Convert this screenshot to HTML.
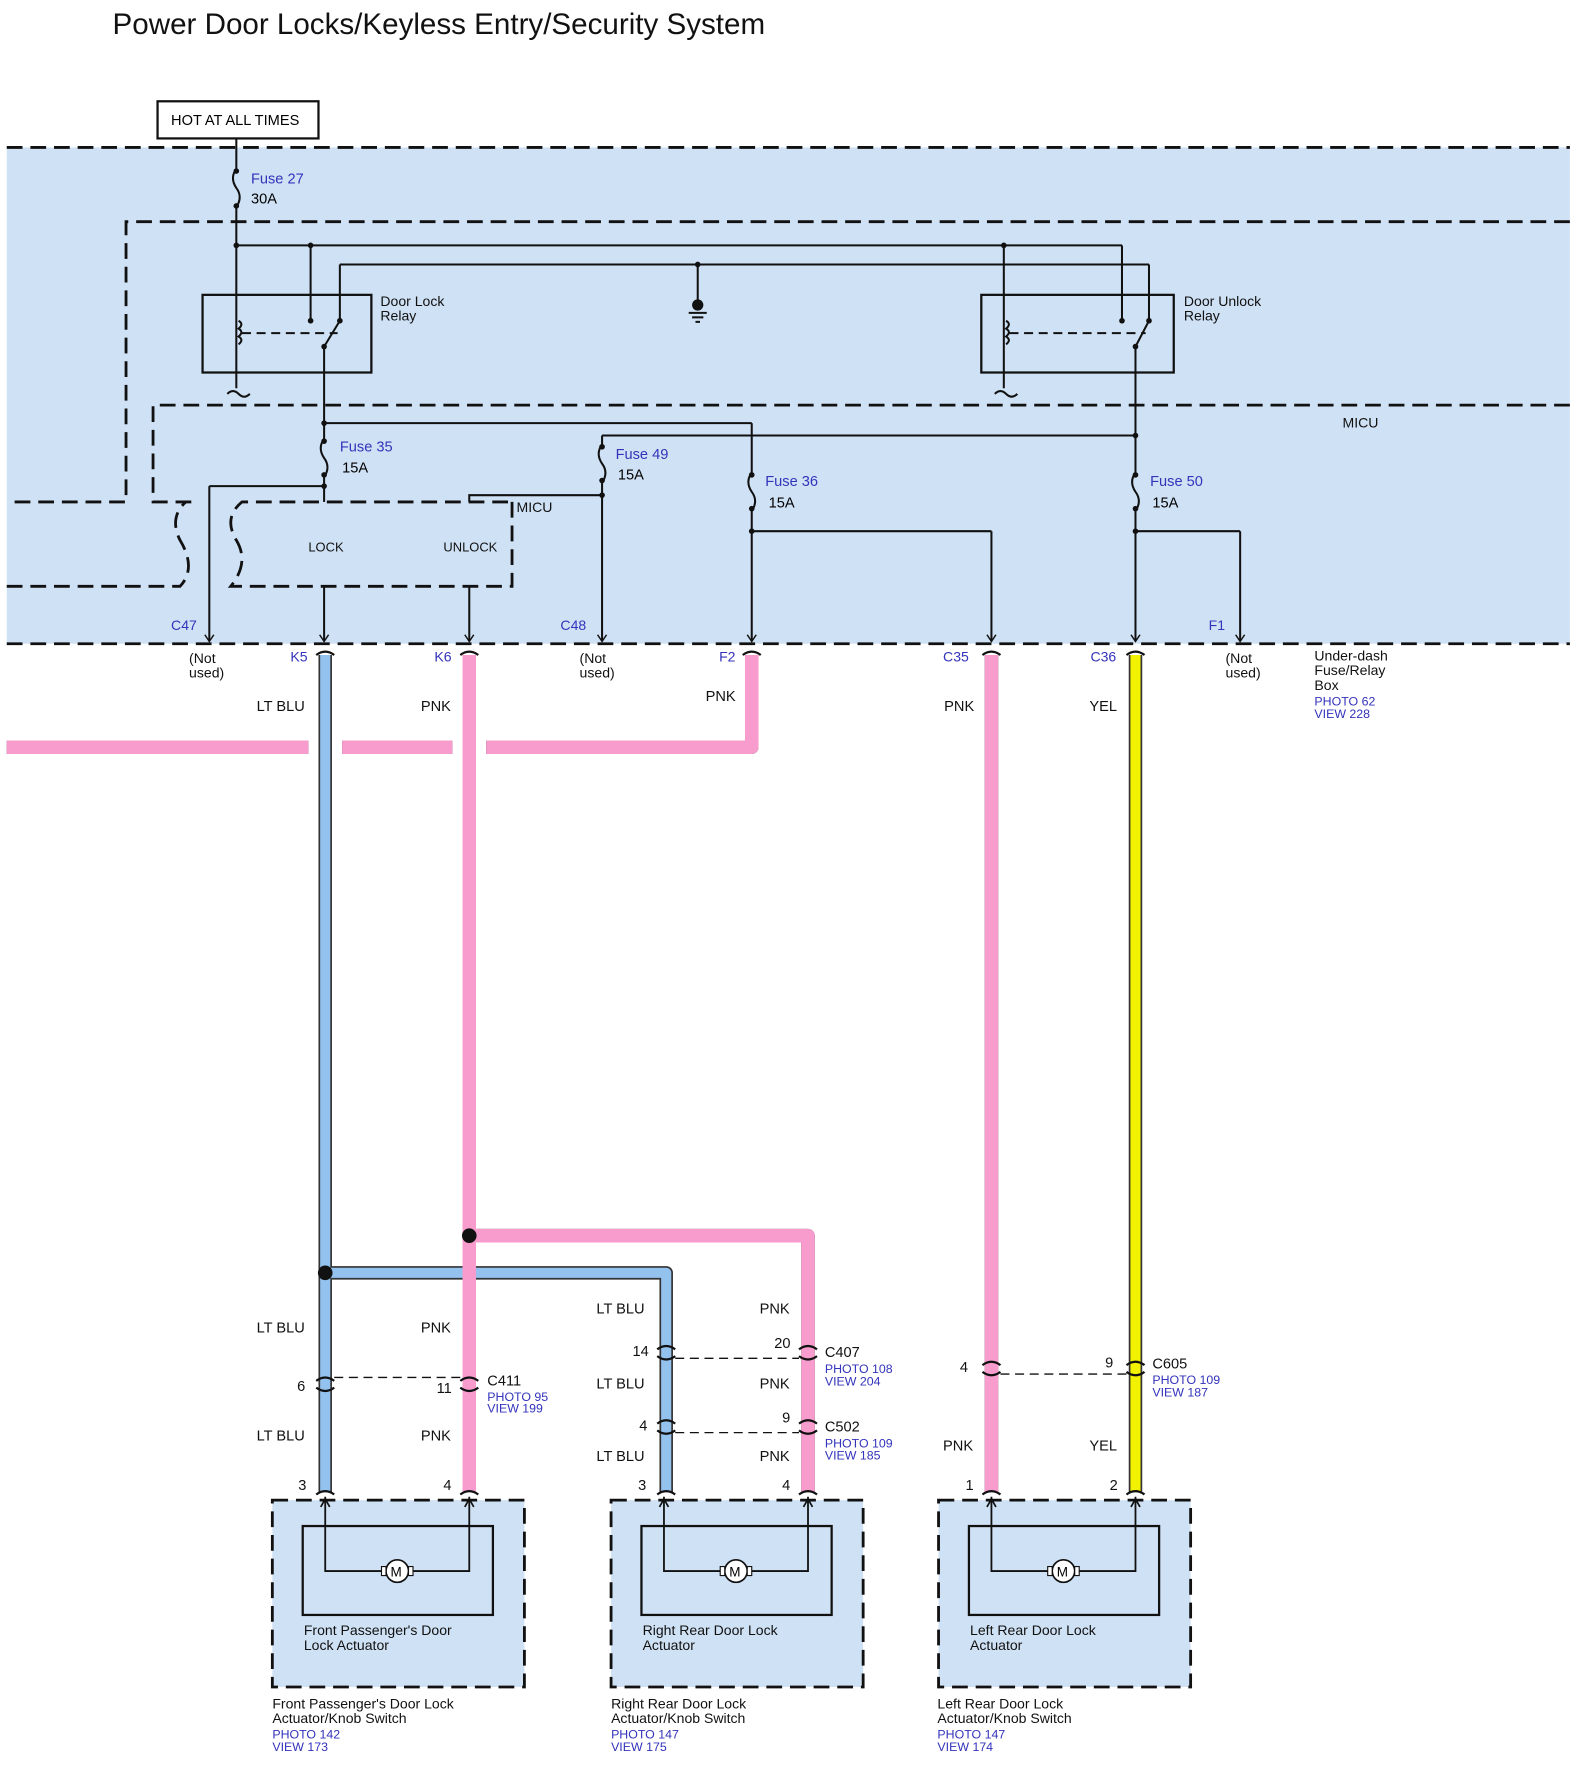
<!DOCTYPE html>
<html><head><style>
html,body{margin:0;padding:0;background:#fff;}
svg{display:block;}
text{font-family:"Liberation Sans",sans-serif;}
</style></head><body>
<svg width="1580" height="1768" viewBox="0 0 1404 1571" preserveAspectRatio="none" xmlns="http://www.w3.org/2000/svg">
<defs>
<marker id="ar" markerWidth="10" markerHeight="10" refX="8" refY="5" orient="auto" markerUnits="userSpaceOnUse">
<path d="M2,1 L8,5 L2,9" fill="none" stroke="#111" stroke-width="1.3"/>
</marker>
</defs>
<rect width="1404" height="1571" fill="#fff"/>
<text x="100" y="30" font-size="26.3" fill="#111">Power Door Locks/Keyless Entry/Security System</text>
<rect x="140" y="90" width="143" height="33" fill="#fff" stroke="#111" stroke-width="2"/>
<text x="152" y="111" font-size="13">HOT AT ALL TIMES</text>
<rect x="6" y="131" width="1389" height="441" fill="#cfe1f4"/>
<g fill="none" stroke="#111" stroke-width="2.5" stroke-dasharray="14,7">
<line x1="6" y1="131" x2="1395" y2="131"/>
<line x1="6" y1="572" x2="1395" y2="572"/>
<path d="M1395,197 H112 V446 H6"/>
<path d="M1395,360 H136 V446 H170"/>
<path d="M6,521 H160 Q175,505 160,480 Q150,460 165,446"/>
<path d="M455,446 V521 H205 Q222,500 210,480 Q198,460 215,446 H455"/>
</g>
<g font-size="12.5" fill="#111">
<text x="1193" y="380">MICU</text>
<text x="459" y="455">MICU</text>
<text x="274" y="490" font-size="11.5">LOCK</text>
<text x="394" y="490" font-size="11.5">UNLOCK</text>
<text x="338" y="272">Door Lock</text><text x="338" y="285">Relay</text>
<text x="1052" y="272">Door Unlock</text><text x="1052" y="285">Relay</text>
</g>
<rect x="180" y="262" width="150" height="69" fill="none" stroke="#111" stroke-width="2"/>
<rect x="872" y="262" width="171" height="69" fill="none" stroke="#111" stroke-width="2"/>
<g fill="none" stroke="#111" stroke-width="1.8">
<line x1="210" y1="123" x2="210" y2="150"/>
<path d="M210,150 q-6,8 0,17 q6,8 0,17"/>
<line x1="210" y1="184" x2="210" y2="345"/>
<path d="M202,350 q5,-5 10,0 q5,5 10,0"/>
<line x1="210" y1="218" x2="997" y2="218"/>
<line x1="276" y1="218" x2="276" y2="285"/>
<line x1="302" y1="235" x2="302" y2="285"/>
<line x1="302" y1="235" x2="1021" y2="235"/>
<line x1="620" y1="235" x2="620" y2="270"/>
<line x1="612" y1="278" x2="628" y2="278"/><line x1="615" y1="282" x2="625" y2="282"/><line x1="618" y1="286" x2="622" y2="286"/>
<path d="M212,285 q5,3 0,7 q5,3 0,7 q5,3 0,7"/>
<line x1="215" y1="296" x2="300" y2="296" stroke-dasharray="8,5"/>
<line x1="288" y1="308" x2="302" y2="285"/>
<line x1="892" y1="218" x2="892" y2="345"/>
<path d="M884,350 q5,-5 10,0 q5,5 10,0"/>
<path d="M894,285 q5,3 0,7 q5,3 0,7 q5,3 0,7"/>
<line x1="897" y1="296" x2="1018" y2="296" stroke-dasharray="8,5"/>
<line x1="997" y1="218" x2="997" y2="285"/>
<line x1="1021" y1="235" x2="1021" y2="285"/>
<line x1="1009" y1="308" x2="1021" y2="285"/>
<line x1="288" y1="308" x2="288" y2="390"/>
<path d="M288,390 q-6,8 0,17 q6,8 0,17"/>
<line x1="288" y1="424" x2="288" y2="446"/>
<line x1="288" y1="376" x2="668" y2="376"/>
<line x1="288" y1="432" x2="186" y2="432"/>
<line x1="186" y1="432" x2="186" y2="570" marker-end="url(#ar)"/>
<line x1="288" y1="521" x2="288" y2="570" marker-end="url(#ar)"/>
<line x1="417" y1="521" x2="417" y2="570" marker-end="url(#ar)"/>
<path d="M417,446 V440 H535"/>
<line x1="535" y1="387" x2="1009" y2="387"/>
<line x1="535" y1="387" x2="535" y2="395"/>
<path d="M535,395 q-6,8 0,17 q6,8 0,17"/>
<line x1="535" y1="429" x2="535" y2="570" marker-end="url(#ar)"/>
<line x1="668" y1="376" x2="668" y2="420"/>
<path d="M668,420 q-6,8 0,17 q6,8 0,17"/>
<line x1="668" y1="454" x2="668" y2="570" marker-end="url(#ar)"/>
<path d="M668,472 H881"/>
<line x1="881" y1="472" x2="881" y2="570" marker-end="url(#ar)"/>
<line x1="1009" y1="308" x2="1009" y2="420"/>
<path d="M1009,420 q-6,8 0,17 q6,8 0,17"/>
<line x1="1009" y1="454" x2="1009" y2="570" marker-end="url(#ar)"/>
<path d="M1009,472 H1102"/>
<line x1="1102" y1="472" x2="1102" y2="570" marker-end="url(#ar)"/>
</g>
<g fill="#111">
<circle cx="210" cy="152" r="2.5"/><circle cx="210" cy="183" r="2.5"/><circle cx="210" cy="218" r="2.5"/>
<circle cx="276" cy="218" r="2.5"/><circle cx="892" cy="218" r="2.5"/><circle cx="620" cy="235" r="2.5"/>
<circle cx="620" cy="271" r="5"/>
<circle cx="276" cy="285" r="2.5"/><circle cx="302" cy="285" r="2.5"/><circle cx="288" cy="308" r="2.5"/>
<circle cx="997" cy="285" r="2.5"/><circle cx="1021" cy="285" r="2.5"/><circle cx="1009" cy="308" r="2.5"/>
<circle cx="288" cy="376" r="2.5"/><circle cx="288" cy="392" r="2.5"/><circle cx="288" cy="422" r="2.5"/><circle cx="288" cy="432" r="2.5"/>
<circle cx="535" cy="397" r="2.5"/><circle cx="535" cy="427" r="2.5"/><circle cx="535" cy="440" r="2.5"/>
<circle cx="668" cy="422" r="2.5"/><circle cx="668" cy="452" r="2.5"/><circle cx="668" cy="472" r="2.5"/>
<circle cx="1009" cy="387" r="2.5"/><circle cx="1009" cy="422" r="2.5"/><circle cx="1009" cy="452" r="2.5"/><circle cx="1009" cy="472" r="2.5"/>
</g>
<g font-size="13">
<text x="223" y="163" fill="#3333bb">Fuse 27</text><text x="223" y="181">30A</text>
<text x="302" y="401" fill="#3333bb">Fuse 35</text><text x="304" y="420">15A</text>
<text x="547" y="408" fill="#3333bb">Fuse 49</text><text x="549" y="426">15A</text>
<text x="680" y="432" fill="#3333bb">Fuse 36</text><text x="683" y="451">15A</text>
<text x="1022" y="432" fill="#3333bb">Fuse 50</text><text x="1024" y="451">15A</text>
</g>
<g font-size="12.5" fill="#3333bb">
<text x="152" y="560">C47</text><text x="258" y="588">K5</text><text x="386" y="588">K6</text>
<text x="498" y="560">C48</text><text x="639" y="588">F2</text><text x="838" y="588">C35</text>
<text x="969" y="588">C36</text><text x="1074" y="560">F1</text>
</g>
<g font-size="12.5" fill="#111">
<text x="168" y="589">(Not</text><text x="168" y="602">used)</text>
<text x="515" y="589">(Not</text><text x="515" y="602">used)</text>
<text x="1089" y="589">(Not</text><text x="1089" y="602">used)</text>
<text x="1168" y="587">Under-dash</text><text x="1168" y="600">Fuse/Relay</text><text x="1168" y="613">Box</text>
<text x="1168" y="627" font-size="11" fill="#3333bb">PHOTO 62</text><text x="1168" y="638" font-size="11" fill="#3333bb">VIEW 228</text>
</g>
<g fill="none" stroke-linejoin="round">
<g stroke="#333" stroke-width="12">
<path d="M668,582 V664 H432 M402,664 H304 M274,664 H6"/>
<line x1="289" y1="582" x2="289" y2="1326"/>
<path d="M289,1131 H592 V1326"/>
<path d="M417,1098 H718 V1326"/>
<line x1="881" y1="582" x2="881" y2="1326"/>
<line x1="1009" y1="582" x2="1009" y2="1326"/>
</g>
<path d="M668,582 V664 H432 M402,664 H304 M274,664 H6" stroke="#f79ccd" stroke-width="12"/>
<path d="M417,1098 H718 V1326" stroke="#f79ccd" stroke-width="12"/>
<line x1="289" y1="582" x2="289" y2="1326" stroke="#94c2ef" stroke-width="9"/>
<path d="M289,1131 H592 V1326" stroke="#94c2ef" stroke-width="9"/>
<line x1="417" y1="582" x2="417" y2="1326" stroke="#f79ccd" stroke-width="12"/>
<line x1="881" y1="582" x2="881" y2="1326" stroke="#f79ccd" stroke-width="12"/>
<line x1="1009" y1="582" x2="1009" y2="1326" stroke="#f2f200" stroke-width="9"/>
</g>
<circle cx="289" cy="1131" r="6.5" fill="#111"/>
<circle cx="417" cy="1098" r="6.5" fill="#111"/>
<g fill="none" stroke="#111" stroke-width="2">
<path d="M281,582 q8,-6 16,0 M409,582 q8,-6 16,0 M660,582 q8,-6 16,0 M873,582 q8,-6 16,0 M1001,582 q8,-6 16,0"/>
<path d="M281,1227 q8,-6 16,0 M281,1233 q8,6 16,0 M409,1227 q8,-6 16,0 M409,1233 q8,6 16,0"/>
<path d="M584,1199 q8,-6 16,0 M584,1205 q8,6 16,0 M710,1199 q8,-6 16,0 M710,1205 q8,6 16,0"/>
<path d="M584,1265 q8,-6 16,0 M584,1271 q8,6 16,0 M710,1265 q8,-6 16,0 M710,1271 q8,6 16,0"/>
<path d="M873,1213 q8,-6 16,0 M873,1219 q8,6 16,0 M1001,1213 q8,-6 16,0 M1001,1219 q8,6 16,0"/>
<path d="M281,1328 q8,-6 16,0 M409,1328 q8,-6 16,0 M584,1328 q8,-6 16,0 M710,1328 q8,-6 16,0 M873,1328 q8,-6 16,0 M1001,1328 q8,-6 16,0"/>
<g stroke-width="1.2" stroke-dasharray="8,5">
<line x1="297" y1="1224" x2="409" y2="1224"/>
<line x1="600" y1="1207" x2="710" y2="1207"/>
<line x1="600" y1="1273" x2="710" y2="1273"/>
<line x1="889" y1="1221" x2="1001" y2="1221"/>
</g>
</g>
<g font-size="13" fill="#111">
<text x="228" y="632">LT BLU</text><text x="374" y="632">PNK</text><text x="627" y="623">PNK</text>
<text x="839" y="632">PNK</text><text x="968" y="632">YEL</text>
<text x="228" y="1184">LT BLU</text><text x="374" y="1184">PNK</text>
<text x="228" y="1280">LT BLU</text><text x="374" y="1280">PNK</text>
<text x="264" y="1236">6</text><text x="388" y="1238">11</text>
<text x="433" y="1231">C411</text>
<text x="530" y="1167">LT BLU</text><text x="675" y="1167">PNK</text>
<text x="530" y="1234">LT BLU</text><text x="675" y="1234">PNK</text>
<text x="530" y="1298">LT BLU</text><text x="675" y="1298">PNK</text>
<text x="562" y="1205">14</text><text x="688" y="1198">20</text>
<text x="568" y="1271">4</text><text x="695" y="1264">9</text>
<text x="733" y="1206">C407</text><text x="733" y="1272">C502</text>
<text x="853" y="1219">4</text><text x="982" y="1215">9</text>
<text x="1024" y="1216">C605</text>
<text x="838" y="1289">PNK</text><text x="968" y="1289">YEL</text>
<text x="265" y="1324">3</text><text x="394" y="1324">4</text>
<text x="567" y="1324">3</text><text x="695" y="1324">4</text>
<text x="858" y="1324">1</text><text x="986" y="1324">2</text>
</g>
<g font-size="11" fill="#3333bb">
<text x="433" y="1245">PHOTO 95</text><text x="433" y="1255">VIEW 199</text>
<text x="733" y="1220">PHOTO 108</text><text x="733" y="1231">VIEW 204</text>
<text x="733" y="1286">PHOTO 109</text><text x="733" y="1297">VIEW 185</text>
<text x="1024" y="1230">PHOTO 109</text><text x="1024" y="1241">VIEW 187</text>
</g>
<g>
<g transform="translate(242,0)">
<rect x="0" y="1333" width="224" height="166" fill="#cfe1f4" stroke="#111" stroke-width="2.5" stroke-dasharray="14,7"/>
<rect x="27" y="1356" width="169" height="79" fill="none" stroke="#111" stroke-width="2"/>
<path d="M47,1330 V1396 H100 M122,1396 H175 V1330" fill="none" stroke="#111" stroke-width="1.6"/>
<path d="M43,1339 L47,1332 L51,1339 M171,1339 L175,1332 L179,1339" fill="none" stroke="#111" stroke-width="1.5"/>
<circle cx="111" cy="1396" r="10" fill="#fff" stroke="#111" stroke-width="1.5"/>
<rect x="97" y="1392" width="4" height="8" fill="#fff" stroke="#111"/><rect x="121" y="1392" width="4" height="8" fill="#fff" stroke="#111"/>
<text x="105" y="1401" font-size="12">M</text>
</g>
<g transform="translate(543,0)">
<rect x="0" y="1333" width="224" height="166" fill="#cfe1f4" stroke="#111" stroke-width="2.5" stroke-dasharray="14,7"/>
<rect x="27" y="1356" width="169" height="79" fill="none" stroke="#111" stroke-width="2"/>
<path d="M47,1330 V1396 H100 M122,1396 H175 V1330" fill="none" stroke="#111" stroke-width="1.6"/>
<path d="M43,1339 L47,1332 L51,1339 M171,1339 L175,1332 L179,1339" fill="none" stroke="#111" stroke-width="1.5"/>
<circle cx="111" cy="1396" r="10" fill="#fff" stroke="#111" stroke-width="1.5"/>
<rect x="97" y="1392" width="4" height="8" fill="#fff" stroke="#111"/><rect x="121" y="1392" width="4" height="8" fill="#fff" stroke="#111"/>
<text x="105" y="1401" font-size="12">M</text>
</g>
<g transform="translate(834,0)">
<rect x="0" y="1333" width="224" height="166" fill="#cfe1f4" stroke="#111" stroke-width="2.5" stroke-dasharray="14,7"/>
<rect x="27" y="1356" width="169" height="79" fill="none" stroke="#111" stroke-width="2"/>
<path d="M47,1330 V1396 H100 M122,1396 H175 V1330" fill="none" stroke="#111" stroke-width="1.6"/>
<path d="M43,1339 L47,1332 L51,1339 M171,1339 L175,1332 L179,1339" fill="none" stroke="#111" stroke-width="1.5"/>
<circle cx="111" cy="1396" r="10" fill="#fff" stroke="#111" stroke-width="1.5"/>
<rect x="97" y="1392" width="4" height="8" fill="#fff" stroke="#111"/><rect x="121" y="1392" width="4" height="8" fill="#fff" stroke="#111"/>
<text x="105" y="1401" font-size="12">M</text>
</g>
</g>
<g font-size="12.5" fill="#111">
<text x="270" y="1453">Front Passenger's Door</text><text x="270" y="1466">Lock Actuator</text>
<text x="571" y="1453">Right Rear Door Lock</text><text x="571" y="1466">Actuator</text>
<text x="862" y="1453">Left Rear Door Lock</text><text x="862" y="1466">Actuator</text>
<text x="242" y="1518">Front Passenger's Door Lock</text><text x="242" y="1531">Actuator/Knob Switch</text>
<text x="543" y="1518">Right Rear Door Lock</text><text x="543" y="1531">Actuator/Knob Switch</text>
<text x="833" y="1518">Left Rear Door Lock</text><text x="833" y="1531">Actuator/Knob Switch</text>
</g>
<g font-size="11" fill="#3333bb">
<text x="242" y="1545">PHOTO 142</text><text x="242" y="1556">VIEW 173</text>
<text x="543" y="1545">PHOTO 147</text><text x="543" y="1556">VIEW 175</text>
<text x="833" y="1545">PHOTO 147</text><text x="833" y="1556">VIEW 174</text>
</g>
</svg>
</body></html>
